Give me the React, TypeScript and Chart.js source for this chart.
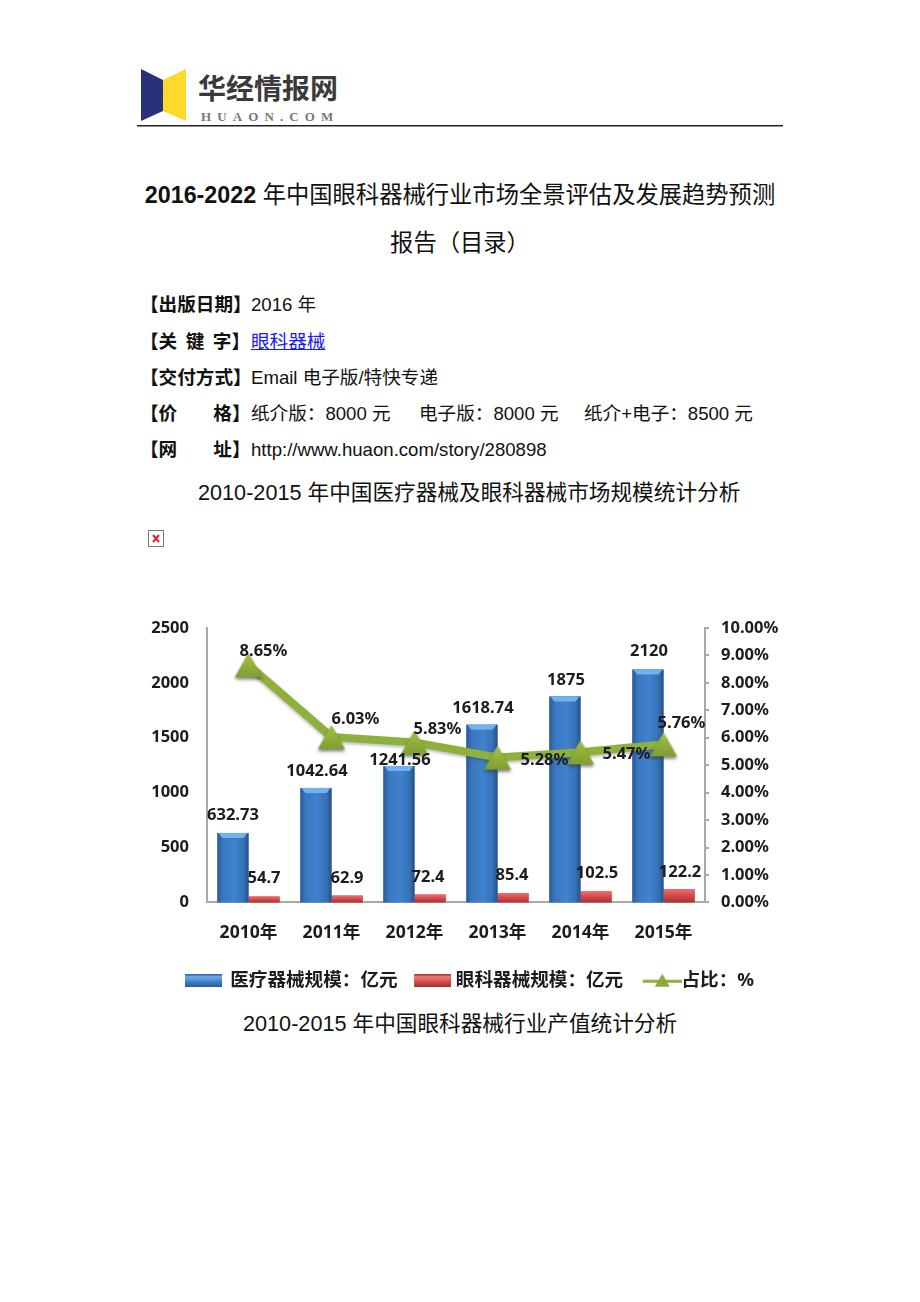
import React, { useEffect, useRef } from "react";
import { Chart, registerables } from "chart.js";

Chart.register(...registerables);

const years = ["2010年", "2011年", "2012年", "2013年", "2014年", "2015年"];
const medicalValues = [632.73, 1042.64, 1241.56, 1618.74, 1875, 2120];
const ophthalmicValues = [54.7, 62.9, 72.4, 85.4, 102.5, 122.2];
const shareValues = [8.65, 6.03, 5.83, 5.28, 5.47, 5.76];
const seriesNames = ["医疗器械规模：亿元", "眼科器械规模：亿元", "占比：%"];

const medicalLabelOffsets = [[0, -18], [1, -17], [1, -6], [1, -16], [1, -16], [1, -18]];
const ophthalmicLabelOffsets = [[0, -18], [0, -17], [-2, -17], [-1, -18], [1, -18], [1, -17]];
const shareLabelOffsets = [[15, -14], [24, -18], [23, -13], [47, 3], [46, 2], [18, -21]];

const LATIN_CJK = '"Liberation Sans","Noto Sans CJK SC",sans-serif';
const CHART_FONT = '"Noto Sans","Noto Sans CJK SC",sans-serif';
const AXIS_COLOR = "#a9a9a9";
const TEXT_COLOR = "#1c1c1c";
const LINE_COLOR = "#8db13b";

function makeCanvas(w: number, h: number) {
  const c = document.createElement("canvas");
  c.width = w;
  c.height = h;
  return c;
}

function triangleSprite() {
  const c = makeCanvas(34, 32);
  const g = c.getContext("2d")!;
  g.shadowColor = "rgba(70,70,70,0.45)";
  g.shadowBlur = 3;
  g.shadowOffsetY = 2;
  const grad = g.createLinearGradient(0, 4, 0, 28);
  grad.addColorStop(0, "#a3c247");
  grad.addColorStop(1, "#7f9f2f");
  g.fillStyle = grad;
  g.beginPath();
  g.moveTo(17, 4);
  g.lineTo(30.5, 28);
  g.lineTo(3.5, 28);
  g.closePath();
  g.fill();
  return c;
}

function barSwatch(top: string, mid: string, bottom: string, lead: number) {
  const c = makeCanvas(37 + lead, 13);
  const g = c.getContext("2d")!;
  const grad = g.createLinearGradient(0, 0, 0, 13);
  grad.addColorStop(0, bottom);
  grad.addColorStop(0.2, top);
  grad.addColorStop(0.6, mid);
  grad.addColorStop(1, bottom);
  g.fillStyle = grad;
  g.fillRect(lead, 0, 37, 13);
  return c;
}

function lineSwatch() {
  const lead = 14;
  const c = makeCanvas(39 + lead, 16);
  const g = c.getContext("2d")!;
  g.fillStyle = LINE_COLOR;
  g.fillRect(lead, 7, 39, 3);
  g.beginPath();
  g.moveTo(lead + 19.5, 1);
  g.lineTo(lead + 27, 14);
  g.lineTo(lead + 12, 14);
  g.closePath();
  g.fillStyle = "#8aa93a";
  g.fill();
  return c;
}

const barShading = {
  id: "barShading",
  afterDatasetDraw(chart: any, args: any) {
    const meta = chart.getDatasetMeta(args.index);
    if (meta.type !== "bar") return;
    const ctx = chart.ctx;
    meta.data.forEach((bar: any) => {
      const { x, y, base, width } = bar.getProps(["x", "y", "base", "width"], true);
      const l = x - width / 2;
      const h = base - y;
      ctx.save();
      if (args.index === 0) {
        const g = ctx.createLinearGradient(l, 0, l + width, 0);
        g.addColorStop(0, "#2a5a97");
        g.addColorStop(0.18, "#3a78bf");
        g.addColorStop(0.55, "#3f82cf");
        g.addColorStop(0.85, "#3570b4");
        g.addColorStop(1, "#264f85");
        ctx.fillStyle = g;
        ctx.fillRect(l, y, width, h);
        ctx.fillStyle = "#6fb2ee";
        ctx.beginPath();
        ctx.moveTo(l + 1, y);
        ctx.lineTo(l + width - 1, y);
        ctx.lineTo(l + width - 5, y + 5);
        ctx.lineTo(l + 5, y + 5);
        ctx.closePath();
        ctx.fill();
      } else {
        const g = ctx.createLinearGradient(0, y, 0, base);
        g.addColorStop(0, "#f26f6f");
        g.addColorStop(0.45, "#d84c4c");
        g.addColorStop(1, "#a83232");
        ctx.fillStyle = g;
        ctx.fillRect(l, y, width, h);
      }
      ctx.restore();
    });
  },
};

const lineShadow = {
  id: "lineShadow",
  beforeDatasetDraw(chart: any, args: any) {
    if (chart.getDatasetMeta(args.index).type !== "line") return;
    const ctx = chart.ctx;
    ctx.save();
    ctx.shadowColor = "rgba(60,60,60,0.35)";
    ctx.shadowBlur = 3;
    ctx.shadowOffsetY = 2;
  },
  afterDatasetDraw(chart: any, args: any) {
    if (chart.getDatasetMeta(args.index).type !== "line") return;
    chart.ctx.restore();
  },
};

const valueLabels = {
  id: "valueLabels",
  afterDatasetsDraw(chart: any) {
    const ctx = chart.ctx;
    ctx.save();
    ctx.font = `700 16.5px ${CHART_FONT}`;
    ctx.fillStyle = TEXT_COLOR;
    ctx.textAlign = "center";
    ctx.textBaseline = "middle";
    const put = (i: number, texts: string[], offs: number[][]) => {
      chart.getDatasetMeta(i).data.forEach((el: any, k: number) => {
        const { x, y } = el.getProps(["x", "y"], true);
        ctx.fillText(texts[k], x + offs[k][0], y + offs[k][1]);
      });
    };
    put(0, medicalValues.map(String), medicalLabelOffsets);
    put(1, ophthalmicValues.map(String), ophthalmicLabelOffsets);
    put(2, shareValues.map((v) => v.toFixed(2) + "%"), shareLabelOffsets);
    ctx.restore();
  },
};

function ChartBlock() {
  const ref = useRef<HTMLCanvasElement>(null);
  useEffect(() => {
    const swatches = [
      barSwatch("#6fb0ea", "#3d7cc4", "#2a5a97", 0),
      barSwatch("#f27a7a", "#d04a4a", "#9c2f2f", 6),
      lineSwatch(),
    ];
    const chart = new Chart(ref.current!, {
      type: "bar",
      data: {
        labels: years,
        datasets: [
          {
            label: seriesNames[0],
            data: medicalValues,
            backgroundColor: "#3a78bf",
            yAxisID: "y",
            order: 1,
            categoryPercentage: 0.75,
            barPercentage: 1,
          },
          {
            label: seriesNames[1],
            data: ophthalmicValues,
            backgroundColor: "#d04a4a",
            yAxisID: "y",
            order: 2,
            categoryPercentage: 0.75,
            barPercentage: 1,
          },
          {
            type: "line",
            label: seriesNames[2],
            data: shareValues,
            yAxisID: "y1",
            order: 0,
            borderColor: LINE_COLOR,
            borderWidth: 8,
            tension: 0,
            pointStyle: triangleSprite(),
            pointRadius: 14,
            pointHoverRadius: 14,
          },
        ] as any,
      },
      options: {
        responsive: false,
        animation: false,
        layout: { padding: { top: 26, left: 0, right: 0, bottom: 0 } },
        plugins: {
          tooltip: { enabled: false },
          legend: {
            position: "bottom",
            labels: {
              usePointStyle: true,
              pointStyleWidth: 34,
              padding: 15,
              color: TEXT_COLOR,
              font: { family: CHART_FONT, size: 18.6, weight: "bold" },
              generateLabels: () =>
                seriesNames.map((text, i) => ({
                  text,
                  pointStyle: swatches[i],
                  fontColor: TEXT_COLOR,
                  datasetIndex: i,
                })),
            },
          },
        },
        scales: {
          x: {
            border: { display: true, color: AXIS_COLOR, width: 2 },
            grid: { display: false },
            ticks: {
              color: TEXT_COLOR,
              padding: 12,
              maxRotation: 0,
              font: { family: CHART_FONT, size: 17.6, weight: "bold" },
            },
            afterFit: (s: any) => {
              s.height = 54;
            },
          },
          y: {
            position: "left",
            min: 0,
            max: 2500,
            border: { display: true, color: AXIS_COLOR, width: 2 },
            grid: { display: false, drawTicks: false },
            ticks: {
              stepSize: 500,
              color: TEXT_COLOR,
              padding: 18,
              font: { family: CHART_FONT, size: 16.5, weight: "bold" },
              callback: (v: any) => String(v),
            },
            afterFit: (s: any) => {
              s.width = 107;
            },
          },
          y1: {
            position: "right",
            min: 0,
            max: 10,
            border: { display: true, color: AXIS_COLOR, width: 2 },
            grid: { drawOnChartArea: false, color: AXIS_COLOR, tickColor: AXIS_COLOR, tickLength: 4, lineWidth: 2 },
            ticks: {
              stepSize: 1,
              color: TEXT_COLOR,
              padding: 12,
              font: { family: CHART_FONT, size: 16.5, weight: "bold" },
              callback: (v: any) => Number(v).toFixed(2) + "%",
            },
            afterFit: (s: any) => {
              s.width = 136;
            },
          },
        },
      } as any,
      plugins: [barShading, lineShadow, valueLabels],
    });
    return () => chart.destroy();
  }, []);
  return (
    <canvas
      ref={ref}
      width={741}
      height={400}
      style={{ position: "absolute", left: 100, top: 600, width: 741, height: 400 }}
    />
  );
}

function Text(props: {
  x?: number;
  cy: number;
  size: number;
  center?: boolean;
  weight?: number;
  color?: string;
  underline?: boolean;
  family?: string;
  spacing?: number;
  wordSpacing?: number;
  children: React.ReactNode;
}) {
  const h = Math.round(props.size * 1.6);
  return (
    <div
      style={{
        position: "absolute",
        left: props.center ? 0 : props.x,
        width: props.center ? 920 : undefined,
        textAlign: props.center ? "center" : "left",
        top: props.cy - h / 2,
        height: h,
        lineHeight: h + "px",
        fontSize: props.size,
        fontWeight: props.weight ?? 400,
        fontFamily: props.family ?? LATIN_CJK,
        color: props.color ?? "#111",
        whiteSpace: "pre",
        letterSpacing: props.spacing,
        wordSpacing: props.wordSpacing,
        textDecoration: props.underline ? "underline" : undefined,
      }}
    >
      {props.children}
    </div>
  );
}

const BOLD_SPAN = { fontWeight: 700 };
const META = 18.6;
const SUB = 21.65;

export default function App() {
  return (
    <div style={{ position: "absolute", left: 0, top: 0, width: 920, height: 1302, overflow: "hidden", background: "#fff" }}>
      <svg style={{ position: "absolute", left: 0, top: 0 }} width={920} height={130}>
        <polygon points="141,69 163,80 163,111 141,121" fill="#27327a" />
        <polygon points="163,80 186,69 186,121 163,111" fill="#fcd92b" />
        <rect x={137} y={125} width={646} height={1.5} fill="#222" />
      </svg>
      <Text x={198} cy={87} size={28} weight={700} color="#3a3a3a" family='"Noto Sans CJK SC",sans-serif'>
        华经情报网
      </Text>
      <Text x={201} cy={116} size={13} weight={700} color="#777" spacing={6.1} family='"Liberation Serif",serif'>
        HUAON.COM
      </Text>

      <Text center cy={195} size={23.3}>
        <span style={BOLD_SPAN}>2016-2022</span> 年中国眼科器械行业市场全景评估及发展趋势预测
      </Text>
      <Text center cy={243} size={23.3}>
        报告（目录）
      </Text>

      <Text x={140} cy={305} size={META}><span style={BOLD_SPAN}>【出版日期】</span></Text>
      <Text x={251} cy={305} size={META}>2016 年</Text>
      <Text x={140} cy={342} size={META} wordSpacing={-0.9}><span style={BOLD_SPAN}>【关  键  字】</span></Text>
      <Text x={251} cy={342} size={META} color="#1a1aee" underline>眼科器械</Text>
      <Text x={140} cy={378} size={META}><span style={BOLD_SPAN}>【交付方式】</span></Text>
      <Text x={251} cy={378} size={META}>Email 电子版/特快专递</Text>
      <Text x={140} cy={414} size={META}><span style={BOLD_SPAN}>【价       格】</span></Text>
      <Text x={251} cy={414} size={META}>纸介版：8000 元</Text>
      <Text x={419} cy={414} size={META}>电子版：8000 元</Text>
      <Text x={584} cy={414} size={META}>纸介+电子：8500 元</Text>
      <Text x={140} cy={450} size={META}><span style={BOLD_SPAN}>【网       址】</span></Text>
      <Text x={251} cy={450} size={META}>http://www.huaon.com/story/280898</Text>

      <Text x={198} cy={492} size={SUB}>2010-2015 年中国医疗器械及眼科器械市场规模统计分析</Text>

      <svg style={{ position: "absolute", left: 148, top: 530 }} width={17} height={18}>
        <rect x={0.5} y={0.5} width={15} height={16} fill="#fff" stroke="#777" />
        <path d="M5 5 L11 12 M11 5 L5 12" stroke="#e8203a" strokeWidth={2} />
      </svg>

      <ChartBlock />

      <Text x={243} cy={1023} size={SUB}>2010-2015 年中国眼科器械行业产值统计分析</Text>
    </div>
  );
}
